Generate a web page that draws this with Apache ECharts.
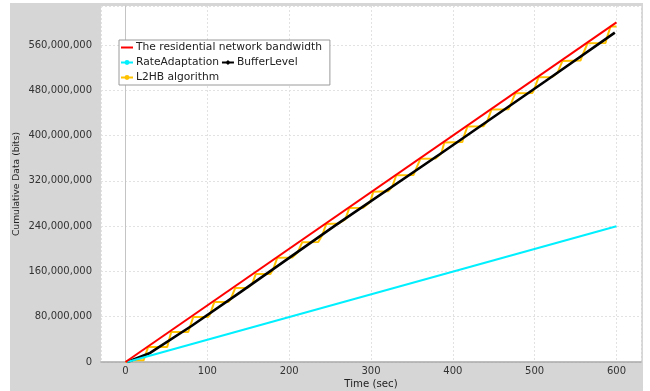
<!DOCTYPE html>
<html><head><meta charset="utf-8">
<script src="https://cdn.jsdelivr.net/npm/echarts@6/dist/echarts.min.js"></script>
<style>html,body{margin:0;padding:0;background:#fff}#c{width:650px;height:391px}</style>
</head><body><div id="c"></div>
<script>
// Series names (legend order)
const seriesNames = ['The residential network bandwidth', 'RateAdaptation', 'BufferLevel', 'L2HB algorithm'];
// Values: [time (sec), cumulative data in millions of bits]
const bandwidthPoints = [[0, 0], [600, 600]];
const rateAdaptationPoints = [[2, 0], [600, 240]];
const bufferLevelPoints = [[2, 0], [30, 16], [81, 64], [140, 123], [256, 241], [384, 367], [513, 496], [598, 582]];
const l2hbPoints = [
  [0, 0], [6, 3], [22, 3], [27.6, 26.5], [50.9, 26.5], [55.8, 52.9], [76.6, 53], [82.7, 79.4],
  [101, 79.5], [103.5, 85], [108.4, 105.9], [125.5, 106], [128.5, 111], [134, 130.6],
  [148.8, 131], [154.8, 138], [159.1, 155.3], [177, 155.5], [180.5, 164], [185.4, 184],
  [203.7, 184.5], [210.5, 194], [216, 211.8], [235.5, 212], [240.4, 224], [245.3, 244],
  [260, 244.5], [268.6, 252], [273.4, 272], [290.6, 272.5], [299.2, 283], [302.8, 301],
  [321, 301.5], [326, 310], [330.9, 330], [352, 330.5], [354.2, 338], [360.3, 359],
  [379, 359.5], [386, 369], [389.6, 388], [411.7, 388.5], [412.9, 396], [417.8, 416],
  [437.3, 416.5], [442.3, 426], [447.2, 446], [468, 446.5], [470.4, 454], [476.5, 475],
  [497.3, 475.5], [499.8, 483], [504.7, 503], [521.5, 503.5], [527.9, 511], [534, 532],
  [556, 532.5], [558.5, 542], [564.6, 563], [586.6, 563.5], [587.9, 571], [592.8, 593],
  [600, 593]
];
// Tick labels
const xTicks = [0, 100, 200, 300, 400, 500, 600];
const yTicks = [0, 80, 160, 240, 320, 400, 480, 560]; // millions
const xRange = [-30, 630];
const yRangeM = [0, 629];

const M = 1e6;
const toBits = pts => pts.map(p => [p[0], p[1] * M]);
const fmt = v => String(Math.round(v)).replace(/\B(?=(\d{3})+(?!\d))/g, ',');
const lineOnlyIcon = 'path://M0,0 L0,0 M0,2 L12,2 L12,4 L0,4 Z M0,6 L0,6';

const chart = echarts.init(document.getElementById('c'), null, {renderer: 'canvas'});
const font = 'DejaVu Sans';
chart.setOption({
  animation: false,
  backgroundColor: '#ffffff',
  graphic: [{
    type: 'rect', z: -10, silent: true,
    shape: {x: 10, y: 3, width: 633, height: 388},
    style: {fill: '#d6d6d6'}
  }],
  grid: {left: 101, right: 9, top: 6, bottom: 29, show: true, backgroundColor: '#ffffff', borderWidth: 0,
         outerBoundsMode: 'none', containLabel: false},
  legend: {
    data: [{name: seriesNames[0], icon: lineOnlyIcon}, seriesNames[1], seriesNames[2], seriesNames[3]],
    left: 119, top: 40, width: 212,
    orient: 'horizontal',
    padding: [1, 8, 1, 1],
    itemGap: 2,
    itemWidth: 12, itemHeight: 6,
    backgroundColor: '#ffffff',
    borderColor: '#9a9a9a', borderWidth: 1,
    textStyle: {fontFamily: font, fontSize: 10.7, color: '#222', lineHeight: 13, padding: [0, 0, 0, -2]}
  },
  xAxis: {
    type: 'value', min: xRange[0], max: xRange[1],
    minInterval: xTicks[1] - xTicks[0], maxInterval: xTicks[1] - xTicks[0],
    name: 'Time (sec)', nameLocation: 'middle', nameGap: 17, nameMoveOverlap: false,
    nameTextStyle: {fontFamily: font, fontSize: 10.2, color: '#222'},
    axisLine: {show: true, onZero: false, lineStyle: {color: '#a8a8a8', width: 1.5}},
    axisTick: {show: false},
    axisLabel: {fontFamily: font, fontSize: 10, color: '#333', margin: 4, showMinLabel: false, showMaxLabel: false},
    splitLine: {show: true, lineStyle: {color: '#e2e2e2', type: [2, 2], width: 1}}
  },
  yAxis: {
    type: 'value', min: yRangeM[0] * M, max: yRangeM[1] * M,
    minInterval: (yTicks[1] - yTicks[0]) * M, maxInterval: (yTicks[1] - yTicks[0]) * M,
    name: 'Cumulative Data (bits)', nameLocation: 'middle', nameGap: 84, nameRotate: 90, nameMoveOverlap: false,
    nameTextStyle: {fontFamily: font, fontSize: 9.2, color: '#222', verticalAlign: 'middle'},
    axisLine: {show: true, lineStyle: {color: '#c4c4c4', width: 1}},
    axisTick: {show: false},
    axisLabel: {fontFamily: font, fontSize: 10, color: '#333', margin: 9, showMaxLabel: false, formatter: fmt},
    splitLine: {show: true, lineStyle: {color: '#e2e2e2', type: [2, 2], width: 1}}
  },
  series: [
    {name: seriesNames[3], type: 'line', data: toBits(l2hbPoints), symbol: 'circle', symbolSize: 3, showSymbol: false,
     lineStyle: {color: '#ffc200', width: 2}, itemStyle: {color: '#ffc200'}, z: 2},
    {name: seriesNames[2], type: 'line', data: toBits(bufferLevelPoints), symbol: 'diamond', symbolSize: 4, showSymbol: false,
     lineStyle: {color: '#000000', width: 2.6}, itemStyle: {color: '#000000'}, z: 3},
    {name: seriesNames[1], type: 'line', data: toBits(rateAdaptationPoints), symbol: 'circle', symbolSize: 3, showSymbol: false,
     lineStyle: {color: '#00f0ff', width: 2}, itemStyle: {color: '#00f0ff'}, z: 4},
    {name: seriesNames[0], type: 'line', data: toBits(bandwidthPoints), symbol: 'none',
     lineStyle: {color: '#ff0000', width: 2}, itemStyle: {color: '#ff0000'}, z: 5}
  ]
});
</script></body></html>
